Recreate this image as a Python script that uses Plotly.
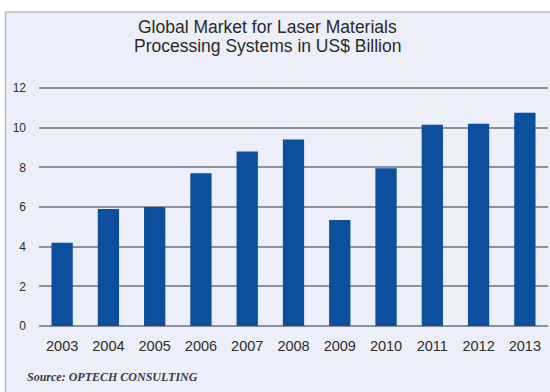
import plotly.graph_objects as go

years = ["2003", "2004", "2005", "2006", "2007", "2008",
         "2009", "2010", "2011", "2012", "2013"]
market_usd_bn = [4.2, 5.9, 6.0, 7.7, 8.8, 9.4, 5.35, 7.95, 10.15, 10.2, 10.75]
y_ticks = [0, 2, 4, 6, 8, 10, 12]
title_lines = ["Global Market for Laser Materials",
               "Processing Systems in US$ Billion"]
source_note = "Source: OPTECH CONSULTING"

panel_bg = "#eceff9"
bar_color = "#0b4f9d"
grid_color = "#8e909c"

fig = go.Figure(
    go.Bar(
        x=years,
        y=market_usd_bn,
        marker=dict(color=bar_color, line=dict(width=0)),
        width=0.46,
    )
)

# plot area in pixels; y range runs a little past 12 so the top grid line shows
Y_MAX = 12.2
L, R, B = 38.5, 548.0, 326.0
T = B - (B - 88.0) * Y_MAX / 12
W, H = R - L, B - T


def px_x(p):
    return (p - L) / W


def px_y(p):
    return (B - p) / H


fig.update_layout(
    width=550,
    height=392,
    margin=dict(l=L, r=550 - R, t=T, b=392 - B, pad=0),
    paper_bgcolor=panel_bg,
    plot_bgcolor=panel_bg,
    showlegend=False,
    font=dict(family="Liberation Sans, Arial, sans-serif", color="#2a2a2a"),
    xaxis=dict(
        type="category",
        showgrid=False,
        showline=False,
        zeroline=False,
        ticks="",
        tickfont=dict(size=14.5, color="#2c2c2c"),
        ticklabelstandoff=9,
        fixedrange=True,
    ),
    yaxis=dict(
        range=[0, Y_MAX],
        tickvals=y_ticks,
        showgrid=True,
        gridcolor=grid_color,
        gridwidth=1.5,
        zeroline=True,
        zerolinecolor=grid_color,
        zerolinewidth=1.5,
        showline=False,
        ticks="",
        tickfont=dict(size=12, color="#2c2c2c"),
        ticklabelstandoff=12,
        fixedrange=True,
    ),
    shapes=[
        # white strip above and left of the framed panel
        dict(type="rect", xref="paper", yref="paper",
             x0=px_x(-5), x1=px_x(560), y0=px_y(12), y1=px_y(-5),
             fillcolor="white", line=dict(width=0), layer="below"),
        dict(type="rect", xref="paper", yref="paper",
             x0=px_x(-5), x1=px_x(5), y0=px_y(400), y1=px_y(-5),
             fillcolor="white", line=dict(width=0), layer="below"),
        # panel frame
        dict(type="line", xref="paper", yref="paper",
             x0=px_x(5), x1=px_x(560), y0=px_y(12), y1=px_y(12),
             line=dict(color="#b9bcc4", width=1.5)),
        dict(type="line", xref="paper", yref="paper",
             x0=px_x(5), x1=px_x(5), y0=px_y(12), y1=px_y(400),
             line=dict(color="#b9bcc4", width=1.5)),
    ],
    annotations=[
        dict(text=title_lines[0],
             xref="paper", yref="paper", x=px_x(267), y=px_y(27),
             xanchor="center", yanchor="middle", showarrow=False,
             font=dict(size=17.5, color="#2a2a2a")),
        dict(text=title_lines[1],
             xref="paper", yref="paper", x=px_x(267), y=px_y(46),
             xanchor="center", yanchor="middle", showarrow=False,
             font=dict(size=17.5, color="#2a2a2a")),
        dict(text=f"<b><i>{source_note}</i></b>",
             xref="paper", yref="paper", x=px_x(24), y=px_y(377),
             xanchor="left", yanchor="middle", showarrow=False,
             font=dict(family="Liberation Serif, Times New Roman, serif",
                       size=12, color="#3a3a4a")),
    ],
)

fig.write_html("out.html")
